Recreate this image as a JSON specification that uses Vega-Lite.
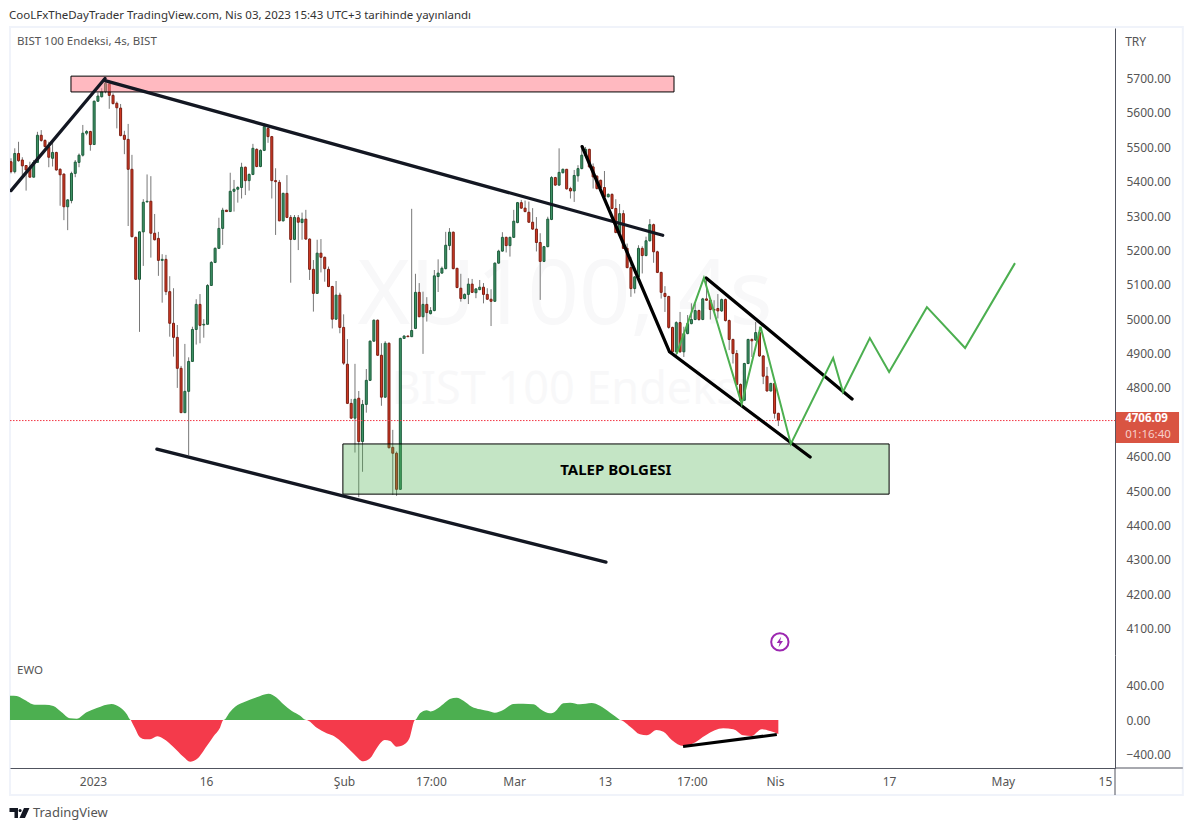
{
"$schema":"https://vega.github.io/schema/vega-lite/v6.json",
"background":"white",
"padding":{"left":8,"top":9,"right":10,"bottom":10},
"bounds":"flush",
"spacing":0,
"config":{"view":{"stroke":null},"font":"Noto Sans","axis":{"labelFont":"Noto Sans","labelFontSize":12,"labelColor":"#555","domainColor":"#50535e","ticks":false,"grid":false,"labelOverlap":false}},
"datasets":{
"candles":[
{"i":0,"o":5458,"h":5468,"l":5424,"c":5429},{"i":1,"o":5429,"h":5497,"l":5424,"c":5482},{"i":2,"o":5482,"h":5516,"l":5458,"c":5461},{"i":3,"o":5463,"h":5471,"l":5419,"c":5446},{"i":4,"o":5447,"h":5448,"l":5374,"c":5434},{"i":5,"o":5439,"h":5458,"l":5413,"c":5413},{"i":6,"o":5413,"h":5463,"l":5413,"c":5456},{"i":7,"o":5456,"h":5545,"l":5456,"c":5535},{"i":8,"o":5535,"h":5550,"l":5516,"c":5520},{"i":9,"o":5520,"h":5523,"l":5500,"c":5502},
{"i":10,"o":5500,"h":5516,"l":5442,"c":5471},{"i":11,"o":5468,"h":5516,"l":5444,"c":5485},{"i":12,"o":5485,"h":5487,"l":5432,"c":5434},{"i":13,"o":5436,"h":5439,"l":5330,"c":5420},{"i":14,"o":5422,"h":5424,"l":5288,"c":5327},{"i":15,"o":5327,"h":5349,"l":5259,"c":5347},{"i":16,"o":5345,"h":5429,"l":5337,"c":5424},{"i":17,"o":5424,"h":5463,"l":5413,"c":5457},{"i":18,"o":5456,"h":5482,"l":5442,"c":5477},{"i":19,"o":5477,"h":5565,"l":5473,"c":5541},
{"i":20,"o":5541,"h":5550,"l":5535,"c":5546},{"i":21,"o":5546,"h":5548,"l":5490,"c":5508},{"i":22,"o":5508,"h":5636,"l":5508,"c":5634},{"i":23,"o":5634,"h":5659,"l":5632,"c":5649},{"i":24,"o":5647,"h":5672,"l":5645,"c":5662},{"i":25,"o":5662,"h":5704,"l":5657,"c":5686},{"i":26,"o":5684,"h":5696,"l":5612,"c":5651},{"i":27,"o":5651,"h":5657,"l":5625,"c":5627},{"i":28,"o":5628,"h":5633,"l":5555,"c":5615},{"i":29,"o":5614,"h":5626,"l":5532,"c":5534},
{"i":30,"o":5535,"h":5548,"l":5480,"c":5523},{"i":31,"o":5523,"h":5568,"l":5271,"c":5436},{"i":32,"o":5436,"h":5478,"l":5238,"c":5240},{"i":33,"o":5238,"h":5240,"l":5114,"c":5116},{"i":34,"o":5116,"h":5255,"l":4963,"c":5254},{"i":35,"o":5254,"h":5349,"l":5155,"c":5340},{"i":36,"o":5341,"h":5421,"l":5340,"c":5343},{"i":37,"o":5343,"h":5416,"l":5179,"c":5250},{"i":38,"o":5250,"h":5306,"l":5229,"c":5231},{"i":39,"o":5235,"h":5254,"l":5126,"c":5171},
{"i":40,"o":5171,"h":5189,"l":5048,"c":5174},{"i":41,"o":5174,"h":5187,"l":5070,"c":5080},{"i":42,"o":5080,"h":5125,"l":4949,"c":4988},{"i":43,"o":4988,"h":5090,"l":4891,"c":4947},{"i":44,"o":4947,"h":4983,"l":4800,"c":4857},{"i":45,"o":4857,"h":4864,"l":4728,"c":4728},{"i":46,"o":4728,"h":4928,"l":4728,"c":4790},{"i":47,"o":4790,"h":4889,"l":4604,"c":4877},{"i":48,"o":4877,"h":4978,"l":4877,"c":4970},{"i":49,"o":4970,"h":5058,"l":4926,"c":5043},
{"i":50,"o":5043,"h":5073,"l":4930,"c":4982},{"i":51,"o":4983,"h":5000,"l":4946,"c":4985},{"i":52,"o":4985,"h":5102,"l":4985,"c":5098},{"i":53,"o":5098,"h":5169,"l":5098,"c":5165},{"i":54,"o":5165,"h":5209,"l":5163,"c":5206},{"i":55,"o":5206,"h":5295,"l":5204,"c":5264},{"i":56,"o":5264,"h":5324,"l":5216,"c":5317},{"i":57,"o":5317,"h":5318,"l":5312,"c":5313},{"i":58,"o":5313,"h":5426,"l":5313,"c":5372},{"i":59,"o":5372,"h":5405,"l":5313,"c":5378},
{"i":60,"o":5378,"h":5387,"l":5339,"c":5383},{"i":61,"o":5383,"h":5455,"l":5351,"c":5442},{"i":62,"o":5442,"h":5444,"l":5361,"c":5403},{"i":63,"o":5403,"h":5424,"l":5374,"c":5421},{"i":64,"o":5421,"h":5510,"l":5419,"c":5497},{"i":65,"o":5494,"h":5497,"l":5442,"c":5444},{"i":66,"o":5444,"h":5494,"l":5442,"c":5491},{"i":67,"o":5491,"h":5570,"l":5489,"c":5560},{"i":68,"o":5555,"h":5565,"l":5513,"c":5531},{"i":69,"o":5531,"h":5533,"l":5351,"c":5403},
{"i":70,"o":5403,"h":5439,"l":5245,"c":5400},{"i":71,"o":5398,"h":5405,"l":5285,"c":5286},{"i":72,"o":5286,"h":5368,"l":5284,"c":5366},{"i":73,"o":5366,"h":5419,"l":5294,"c":5296},{"i":74,"o":5296,"h":5303,"l":5106,"c":5232},{"i":75,"o":5232,"h":5303,"l":5230,"c":5296},{"i":76,"o":5295,"h":5303,"l":5201,"c":5282},{"i":77,"o":5281,"h":5310,"l":5231,"c":5291},{"i":78,"o":5291,"h":5318,"l":5231,"c":5233},{"i":79,"o":5233,"h":5235,"l":5114,"c":5145},
{"i":80,"o":5145,"h":5172,"l":5022,"c":5075},{"i":81,"o":5075,"h":5231,"l":5075,"c":5192},{"i":82,"o":5192,"h":5233,"l":5136,"c":5180},{"i":83,"o":5180,"h":5182,"l":5109,"c":5147},{"i":84,"o":5145,"h":5153,"l":5093,"c":5095},{"i":85,"o":5095,"h":5097,"l":4973,"c":5000},{"i":86,"o":5000,"h":5111,"l":4998,"c":5070},{"i":87,"o":5070,"h":5077,"l":4959,"c":4976},{"i":88,"o":4976,"h":5014,"l":4867,"c":4872},{"i":89,"o":4869,"h":4942,"l":4753,"c":4755},
{"i":90,"o":4755,"h":4768,"l":4710,"c":4712},{"i":91,"o":4712,"h":4870,"l":4612,"c":4767},{"i":92,"o":4770,"h":4791,"l":4482,"c":4644},{"i":93,"o":4644,"h":4765,"l":4556,"c":4752},{"i":94,"o":4752,"h":4855,"l":4728,"c":4822},{"i":95,"o":4822,"h":4938,"l":4820,"c":4936},{"i":96,"o":4936,"h":4999,"l":4934,"c":4997},{"i":97,"o":4997,"h":4999,"l":4893,"c":4895},{"i":98,"o":4895,"h":4930,"l":4748,"c":4773},{"i":99,"o":4773,"h":4936,"l":4771,"c":4930},
{"i":100,"o":4930,"h":4932,"l":4624,"c":4626},{"i":101,"o":4627,"h":4678,"l":4489,"c":4610},{"i":102,"o":4610,"h":4615,"l":4486,"c":4505},{"i":103,"o":4505,"h":4946,"l":4503,"c":4944},{"i":104,"o":4944,"h":4953,"l":4943,"c":4951},{"i":105,"o":4951,"h":4952,"l":4948,"c":4949},{"i":106,"o":4949,"h":5321,"l":4948,"c":4967},{"i":107,"o":4973,"h":5132,"l":4971,"c":5078},{"i":108,"o":5078,"h":5105,"l":5006,"c":5007},{"i":109,"o":5007,"h":5080,"l":4899,"c":5043},
{"i":110,"o":5043,"h":5064,"l":4993,"c":5019},{"i":111,"o":5016,"h":5035,"l":5014,"c":5025},{"i":112,"o":5025,"h":5143,"l":5023,"c":5126},{"i":113,"o":5124,"h":5174,"l":5079,"c":5134},{"i":114,"o":5134,"h":5153,"l":5132,"c":5148},{"i":115,"o":5147,"h":5254,"l":5145,"c":5215},{"i":116,"o":5214,"h":5265,"l":5201,"c":5253},{"i":117,"o":5253,"h":5255,"l":5145,"c":5147},{"i":118,"o":5148,"h":5149,"l":5090,"c":5092},{"i":119,"o":5090,"h":5132,"l":5051,"c":5060},
{"i":120,"o":5060,"h":5075,"l":5058,"c":5072},{"i":121,"o":5072,"h":5119,"l":5044,"c":5102},{"i":122,"o":5102,"h":5117,"l":5076,"c":5078},{"i":123,"o":5077,"h":5090,"l":5061,"c":5088},{"i":124,"o":5086,"h":5114,"l":5084,"c":5093},{"i":125,"o":5093,"h":5105,"l":5046,"c":5072},{"i":126,"o":5072,"h":5090,"l":5056,"c":5058},{"i":127,"o":5058,"h":5087,"l":4980,"c":5052},{"i":128,"o":5052,"h":5165,"l":5050,"c":5163},{"i":129,"o":5163,"h":5202,"l":5161,"c":5198},
{"i":130,"o":5198,"h":5253,"l":5196,"c":5238},{"i":131,"o":5238,"h":5240,"l":5194,"c":5214},{"i":132,"o":5214,"h":5240,"l":5182,"c":5238},{"i":133,"o":5238,"h":5318,"l":5236,"c":5285},{"i":134,"o":5281,"h":5341,"l":5279,"c":5339},{"i":135,"o":5339,"h":5347,"l":5321,"c":5323},{"i":136,"o":5323,"h":5345,"l":5311,"c":5313},{"i":137,"o":5311,"h":5342,"l":5280,"c":5282},{"i":138,"o":5282,"h":5323,"l":5260,"c":5262},{"i":139,"o":5262,"h":5297,"l":5197,"c":5223},
{"i":140,"o":5223,"h":5250,"l":5056,"c":5168},{"i":141,"o":5168,"h":5213,"l":5166,"c":5211},{"i":142,"o":5211,"h":5298,"l":5209,"c":5291},{"i":143,"o":5290,"h":5416,"l":5288,"c":5412},{"i":144,"o":5412,"h":5414,"l":5388,"c":5390},{"i":145,"o":5390,"h":5497,"l":5388,"c":5427},{"i":146,"o":5426,"h":5438,"l":5424,"c":5436},{"i":147,"o":5436,"h":5437,"l":5377,"c":5379},{"i":148,"o":5380,"h":5385,"l":5351,"c":5373},{"i":149,"o":5373,"h":5434,"l":5341,"c":5418},
{"i":150,"o":5417,"h":5448,"l":5400,"c":5438},{"i":151,"o":5438,"h":5501,"l":5436,"c":5477},{"i":152,"o":5477,"h":5501,"l":5472,"c":5494},{"i":153,"o":5494,"h":5496,"l":5441,"c":5443},{"i":154,"o":5443,"h":5453,"l":5380,"c":5414},{"i":155,"o":5416,"h":5419,"l":5377,"c":5380},{"i":156,"o":5404,"h":5406,"l":5380,"c":5383},{"i":157,"o":5383,"h":5431,"l":5354,"c":5356},{"i":158,"o":5356,"h":5366,"l":5354,"c":5363},{"i":159,"o":5363,"h":5366,"l":5320,"c":5322},
{"i":160,"o":5322,"h":5349,"l":5250,"c":5252},{"i":161,"o":5252,"h":5335,"l":5250,"c":5307},{"i":162,"o":5307,"h":5317,"l":5204,"c":5206},{"i":163,"o":5206,"h":5220,"l":5148,"c":5150},{"i":164,"o":5150,"h":5181,"l":5065,"c":5089},{"i":165,"o":5089,"h":5125,"l":5075,"c":5123},{"i":166,"o":5123,"h":5215,"l":5121,"c":5206},{"i":167,"o":5206,"h":5212,"l":5133,"c":5185},{"i":168,"o":5185,"h":5240,"l":5183,"c":5228},{"i":169,"o":5228,"h":5291,"l":5226,"c":5275},
{"i":170,"o":5275,"h":5278,"l":5164,"c":5196},{"i":171,"o":5196,"h":5199,"l":5134,"c":5136},{"i":172,"o":5136,"h":5138,"l":5060,"c":5078},{"i":173,"o":5075,"h":5096,"l":5021,"c":5066},{"i":174,"o":5066,"h":5068,"l":4972,"c":4976},{"i":175,"o":4976,"h":4978,"l":4900,"c":4905},{"i":176,"o":4905,"h":4994,"l":4890,"c":4990},{"i":177,"o":4990,"h":5021,"l":4902,"c":4905},{"i":178,"o":4905,"h":4978,"l":4890,"c":4958},{"i":179,"o":4958,"h":5012,"l":4956,"c":4987},
{"i":180,"o":4987,"h":5046,"l":4985,"c":4999},{"i":181,"o":4999,"h":5046,"l":4997,"c":5025},{"i":182,"o":5025,"h":5028,"l":4995,"c":4999},{"i":183,"o":4999,"h":5062,"l":4997,"c":5059},{"i":184,"o":5059,"h":5118,"l":5053,"c":5055},{"i":185,"o":5055,"h":5057,"l":4999,"c":5028},{"i":186,"o":5028,"h":5055,"l":5021,"c":5026},{"i":187,"o":5031,"h":5073,"l":5002,"c":5024},{"i":188,"o":5024,"h":5060,"l":5021,"c":5057},{"i":189,"o":5057,"h":5060,"l":4993,"c":4996},
{"i":190,"o":4996,"h":4999,"l":4910,"c":4941},{"i":191,"o":4941,"h":4943,"l":4871,"c":4900},{"i":192,"o":4900,"h":4910,"l":4808,"c":4810},{"i":193,"o":4810,"h":4813,"l":4762,"c":4764},{"i":194,"o":4764,"h":4873,"l":4762,"c":4871},{"i":195,"o":4871,"h":4943,"l":4869,"c":4941},{"i":196,"o":4941,"h":4944,"l":4890,"c":4937},{"i":197,"o":4939,"h":4992,"l":4937,"c":4961},{"i":198,"o":4961,"h":4978,"l":4890,"c":4893},{"i":199,"o":4893,"h":4895,"l":4811,"c":4834},
{"i":200,"o":4834,"h":4861,"l":4790,"c":4791},{"i":201,"o":4791,"h":4815,"l":4790,"c":4813},{"i":202,"o":4813,"h":4815,"l":4711,"c":4726},{"i":203,"o":4726,"h":4728,"l":4689,"c":4706}
],
"ewo":[
{"i":-0.3,"v":282},{"i":0,"v":282},{"i":1.5,"v":278},{"i":3.3,"v":240},{"i":6.3,"v":178},{"i":9,"v":178},{"i":11.2,"v":162},{"i":13.4,"v":89},{"i":15.6,"v":19},{"i":17.4,"v":15},{"i":20,"v":89},{"i":22.7,"v":139},{"i":26.6,"v":186},{"i":28.8,"v":147},{"i":30.6,"v":70},{"i":31.7,"v":0},
{"i":32.8,"v":-97},{"i":34.1,"v":-201},{"i":35.4,"v":-224},{"i":36.8,"v":-224},{"i":38.7,"v":-189},{"i":40.3,"v":-216},{"i":42.9,"v":-309},{"i":45.6,"v":-425},{"i":47.4,"v":-483},{"i":49.1,"v":-456},{"i":51.8,"v":-301},{"i":53.5,"v":-193},{"i":55.3,"v":-89},{"i":56.2,"v":0},
{"i":58,"v":97},{"i":59.3,"v":155},{"i":61.9,"v":213},{"i":65,"v":263},{"i":68.1,"v":305},{"i":70.3,"v":259},{"i":72,"v":186},{"i":74.3,"v":104},{"i":76.5,"v":50},{"i":78.1,"v":0},
{"i":80.9,"v":-89},{"i":83.5,"v":-155},{"i":85.7,"v":-193},{"i":87.9,"v":-271},{"i":90.6,"v":-387},{"i":93.2,"v":-479},{"i":95,"v":-444},{"i":96.7,"v":-329},{"i":98.9,"v":-232},{"i":100.3,"v":-243},{"i":102,"v":-309},{"i":103.8,"v":-290},{"i":105.4,"v":-213},{"i":106.9,"v":0},
{"i":108.2,"v":77},{"i":110,"v":112},{"i":110.9,"v":100},{"i":112.6,"v":128},{"i":114.4,"v":186},{"i":116.1,"v":243},{"i":117.9,"v":259},{"i":119.7,"v":224},{"i":121.9,"v":155},{"i":124.1,"v":124},{"i":126.3,"v":104},{"i":128,"v":85},{"i":130.2,"v":116},{"i":132.9,"v":186},{"i":135.5,"v":189},{"i":138.2,"v":182},{"i":140.4,"v":116},{"i":142.6,"v":77},{"i":143.9,"v":97},{"i":146.1,"v":193},{"i":147.9,"v":201},{"i":150.5,"v":182},{"i":153.6,"v":197},{"i":155.8,"v":166},{"i":158.5,"v":85},{"i":161.1,"v":0},
{"i":163.8,"v":-77},{"i":166.4,"v":-166},{"i":168.2,"v":-178},{"i":170.8,"v":-116},{"i":172.6,"v":-135},{"i":174.8,"v":-232},{"i":177.9,"v":-301},{"i":180.1,"v":-278},{"i":184,"v":-170},{"i":188.4,"v":-97},{"i":191.1,"v":-108},{"i":193.7,"v":-178},{"i":195.9,"v":-186},{"i":198.6,"v":-108},{"i":200.8,"v":-128},{"i":203,"v":-162}
],
"boxes":[
{"i":15.87,"i2":175.4,"p":5707,"p2":5661,"kind":"arz"},
{"i":87.8,"i2":232.3,"p":4637,"p2":4491,"kind":"talep"}
],
"trend":[
{"s":"a","i":0,"p":5374},{"s":"a","i":24.87,"p":5700},
{"s":"b","i":24.87,"p":5694},{"s":"b","i":172.4,"p":5244},
{"s":"c","i":38.6,"p":4622},{"s":"c","i":157.4,"p":4293}
],
"channel":[
{"s":"d","i":151.1,"p":5502},{"s":"d","i":174.2,"p":4905},{"s":"d","i":211.4,"p":4599},
{"s":"e","i":183.9,"p":5120},{"s":"e","i":222.5,"p":4768}
],
"path":[
{"i":176.1,"p":4899},{"i":183.3,"p":5120},{"i":193.3,"p":4753},{"i":198.3,"p":4978},{"i":206.3,"p":4637},{"i":217.5,"p":4887},{"i":220.1,"p":4788},{"i":227.2,"p":4945},{"i":232.3,"p":4846},{"i":242.3,"p":5035},{"i":252.4,"p":4916},{"i":265.6,"p":5163}
]
},
"vconcat":[
{
"width":1105,"height":627,
"encoding":{"x":{"field":"i","type":"quantitative","scale":{"domain":[-0.26,292.06],"nice":false,"zero":false,"padding":0},"axis":null}},
"layer":[
{"data":{"values":[{"i":-0.26,"i2":310,"p":5850,"p2":3616}]},
"mark":{"type":"rect","fill":"transparent","stroke":"#f0f3fa","strokeWidth":2,"clip":false},
"encoding":{"x2":{"field":"i2"},"y":{"field":"p","type":"quantitative","scale":{"domain":[4023,5847],"nice":false,"zero":false},"title":null,"axis":{"orient":"right","values":[4100,4200,4300,4400,4500,4600,4800,4900,5000,5100,5200,5300,5400,5500,5600,5700],"format":".2f","labelPadding":11,"title":null}},"y2":{"field":"p2"}}},
{"data":{"values":[{"i":146.6,"p":5064,"txt":"XU100, 4s"}]},
"mark":{"type":"text","fontSize":90,"color":"#f8f8f9","align":"center","baseline":"middle"},
"encoding":{"y":{"field":"p","type":"quantitative","title":null},"text":{"field":"txt"}}},
{"data":{"values":[{"i":148,"p":4795,"txt":"BIST 100 Endeksi"}]},
"mark":{"type":"text","fontSize":45,"color":"#f8f8f9","align":"center","baseline":"middle"},
"encoding":{"y":{"field":"p","type":"quantitative","title":null},"text":{"field":"txt"}}},
{"data":{"name":"candles"},
"mark":{"type":"rule","color":"#787878","strokeWidth":1},
"encoding":{"y":{"field":"l","type":"quantitative","title":null},"y2":{"field":"h"}}},
{"data":{"name":"candles"},
"mark":{"type":"bar","width":2,"strokeWidth":1,"clip":true},
"encoding":{"y":{"field":"o","type":"quantitative","title":null},"y2":{"field":"c"},
"fill":{"condition":{"test":"datum.c>=datum.o","value":"#3f9467"},"value":"#d53c25"},
"stroke":{"condition":{"test":"datum.c>=datum.o","value":"#1d5c3b"},"value":"#7c1d12"}}},
{"data":{"values":[{"i":-0.26,"i2":292.06,"p":4705}]},
"mark":{"type":"rule","color":"#f23645","strokeWidth":1,"strokeDash":[1.5,1.5]},
"encoding":{"x2":{"field":"i2"},"y":{"field":"p","type":"quantitative","title":null}}},
{"data":{"name":"boxes"},
"mark":{"type":"rect","stroke":"black","strokeWidth":1},
"encoding":{"x2":{"field":"i2"},"y":{"field":"p","type":"quantitative","title":null},"y2":{"field":"p2"},
"fill":{"field":"kind","type":"nominal","scale":{"domain":["arz","talep"],"range":["#ff7f8c","#4caf50"]},"legend":null},
"fillOpacity":{"field":"kind","type":"nominal","scale":{"domain":["arz","talep"],"range":[0.55,0.33]},"legend":null}}},
{"data":{"name":"trend"},
"mark":{"type":"line","color":"#131722","strokeWidth":3.3,"strokeCap":"round","clip":true},
"encoding":{"y":{"field":"p","type":"quantitative","title":null},"detail":{"field":"s"}}},
{"data":{"name":"channel"},
"mark":{"type":"line","color":"black","strokeWidth":3.3,"strokeCap":"round","strokeJoin":"miter"},
"encoding":{"y":{"field":"p","type":"quantitative","title":null},"detail":{"field":"s"}}},
{"data":{"name":"path"},
"mark":{"type":"line","color":"#4caf50","strokeWidth":2},
"encoding":{"y":{"field":"p","type":"quantitative","title":null}}},
{"data":{"values":[{"i":160,"p":4561,"txt":"TALEP BOLGESI"}]},
"mark":{"type":"text","fontSize":15,"fontWeight":"bold","color":"black","align":"center","baseline":"middle"},
"encoding":{"y":{"field":"p","type":"quantitative","title":null},"text":{"field":"txt"}}},
{"data":{"values":[{"i":203.4,"p":4061}]},
"mark":{"type":"point","shape":"circle","size":300,"fill":"white","filled":true,"stroke":"#9c27b0","strokeWidth":2,"opacity":1},
"encoding":{"y":{"field":"p","type":"quantitative","title":null}}},
{"data":{"values":[{"i":203.4,"p":4061}]},
"mark":{"type":"point","shape":"M0.25,-1L-0.6,0.2H-0.05L-0.25,1L0.6,-0.2H0.05Z","size":110,"fill":"#9c27b0","filled":true,"strokeWidth":0,"opacity":1},
"encoding":{"y":{"field":"p","type":"quantitative","title":null}}},
{"data":{"values":[{"i":292.3,"i2":309,"p":4730,"p2":4640}]},
"mark":{"type":"rect","fill":"#d95442","clip":false},
"encoding":{"x2":{"field":"i2"},"y":{"field":"p","type":"quantitative","title":null},"y2":{"field":"p2"}}},
{"data":{"values":[{"i":294.75,"p":4709,"txt":"4706.09"}]},
"mark":{"type":"text","fontSize":11.5,"fontWeight":"bold","color":"white","align":"left","baseline":"middle"},
"encoding":{"y":{"field":"p","type":"quantitative","title":null},"text":{"field":"txt"}}},
{"data":{"values":[{"i":294.75,"p":4662,"txt":"01:16:40"}]},
"mark":{"type":"text","fontSize":11.5,"color":"#f7d0ca","align":"left","baseline":"middle"},
"encoding":{"y":{"field":"p","type":"quantitative","title":null},"text":{"field":"txt"}}},
{"data":{"values":[{"i":294.75,"p":5806,"txt":"TRY"}]},
"mark":{"type":"text","fontSize":12,"color":"#555","align":"left","baseline":"middle"},
"encoding":{"y":{"field":"p","type":"quantitative","title":null},"text":{"field":"txt"}}},
{"data":{"values":[{"i":1.6,"p":5806,"txt":"BIST 100 Endeksi, 4s, BIST"}]},
"mark":{"type":"text","fontSize":11.5,"color":"#555","align":"left","baseline":"middle"},
"encoding":{"y":{"field":"p","type":"quantitative","title":null},"text":{"field":"txt"}}},
{"data":{"values":[{"i":-0.53,"p":5882,"txt":"CooLFxTheDayTrader TradingView.com, Nis 03, 2023 15:43 UTC+3 tarihinde yayınlandı"}]},
"mark":{"type":"text","fontSize":11.5,"color":"#333","align":"left","baseline":"middle"},
"encoding":{"y":{"field":"p","type":"quantitative","title":null},"text":{"field":"txt"}}}
]
},
{
"width":1105,"height":113,
"encoding":{"x":{"field":"i","type":"quantitative","scale":{"domain":[-0.26,292.06],"nice":false,"zero":false,"padding":0},
"axis":{"values":[21.7,51.6,88.1,111.1,133.1,157.1,180.1,202.1,232.3,262.4,289.4],"labelExpr":"['2023','16','Şub','17:00','Mar','13','17:00','Nis','17','May','15'][indexof([21.7,51.6,88.1,111.1,133.1,157.1,180.1,202.1,232.3,262.4,289.4],datum.value)]","labelPadding":8,"title":null,"labelFlush":false,"labelOverlap":false}}},
"layer":[
{"data":{"name":"ewo"},"transform":[{"filter":"datum.v>=0"}],
"mark":{"type":"area","color":"#4caf50","interpolate":"monotone","clip":true},
"encoding":{"y":{"field":"v","type":"quantitative","scale":{"domain":[-556.5,753.6],"nice":false,"zero":false},"axis":{"orient":"right","values":[400,0,-400],"format":".2f","labelPadding":11,"title":null}},"y2":{"datum":0}}},
{"data":{"name":"ewo"},"transform":[{"filter":"datum.v<=0"}],
"mark":{"type":"area","color":"#f43a4b","interpolate":"monotone"},
"encoding":{"y":{"field":"v","type":"quantitative","title":null},"y2":{"datum":0}}},
{"data":{"values":[{"i":177.8,"v":-307},{"i":202.6,"v":-168}]},
"mark":{"type":"line","color":"black","strokeWidth":3},
"encoding":{"y":{"field":"v","type":"quantitative","title":null}}},
{"data":{"values":[{"i":292.06,"v":-556.5,"v2":-870}]},
"mark":{"type":"rule","color":"#50535e","clip":false},
"encoding":{"y":{"field":"v","type":"quantitative","title":null},"y2":{"field":"v2"}}},
{"data":{"values":[{"i":292.06,"i2":310,"v":-556.5}]},
"mark":{"type":"rule","color":"#50535e","clip":false},
"encoding":{"x2":{"field":"i2"},"y":{"field":"v","type":"quantitative","title":null}}},
{"data":{"values":[{"i":1.6,"v":568,"txt":"EWO"}]},
"mark":{"type":"text","fontSize":11.5,"color":"#555","align":"left","baseline":"middle"},
"encoding":{"y":{"field":"v","type":"quantitative","title":null},"text":{"field":"txt"}}},
{"data":{"values":[{"i":5.8,"v":-1078,"txt":"TradingView"}]},
"mark":{"type":"text","fontSize":13,"color":"#555","align":"left","baseline":"middle"},
"encoding":{"y":{"field":"v","type":"quantitative","title":null},"text":{"field":"txt"}}},
{"data":{"values":[{"i":2.25,"v":-1078}]},
"mark":{"type":"point","shape":"M-1,-0.5H-0.15V0.5H-0.5V-0.1H-1ZM-0.1,-0.25A0.16,0.16 0 1 0 0.22,-0.25A0.16,0.16 0 1 0 -0.1,-0.25ZM0.45,-0.5H1L0.55,0.5H0Z","size":400,"fill":"#131722","filled":true,"strokeWidth":0,"opacity":1},
"encoding":{"y":{"field":"v","type":"quantitative","title":null}}}
]
}
]
}
